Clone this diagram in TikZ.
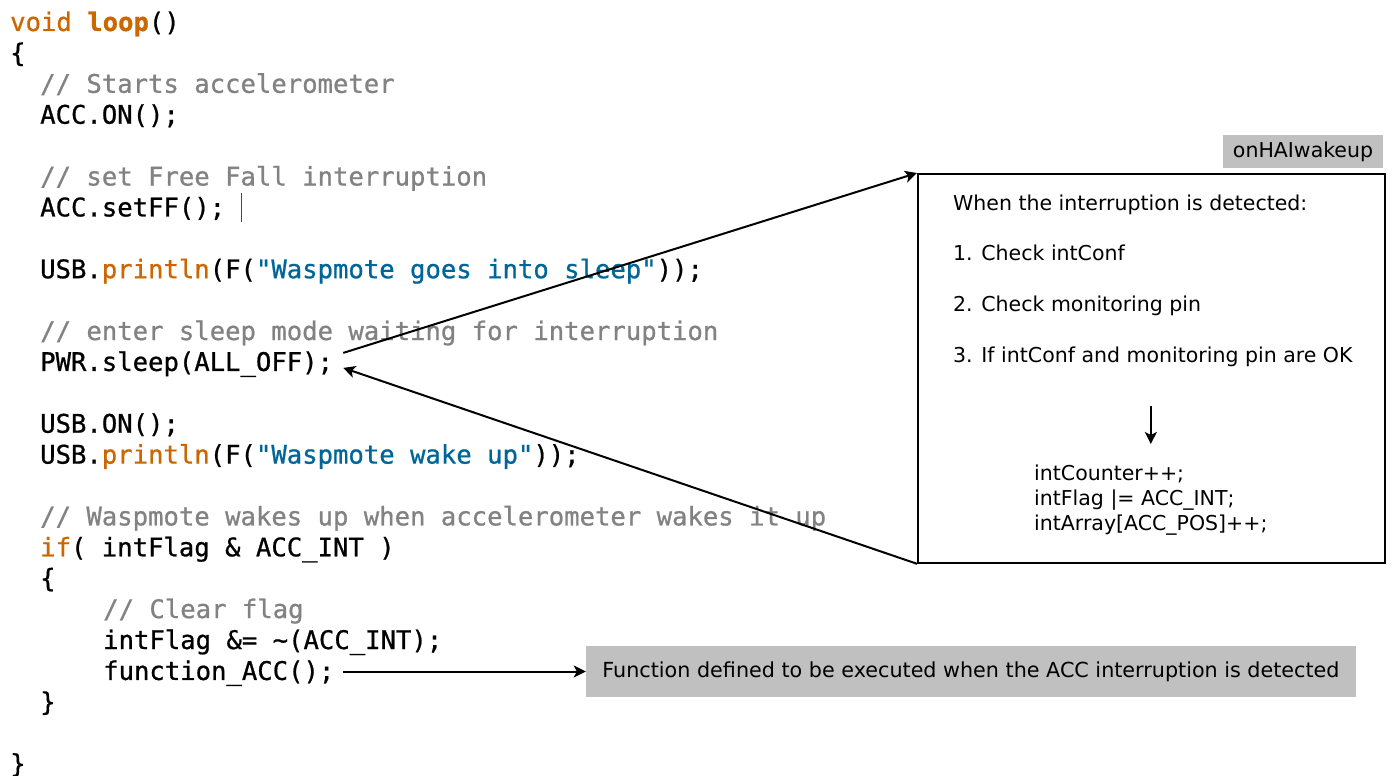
\documentclass[tikz,border=0pt]{standalone}
\usepackage{fontspec}
\setmainfont{DejaVu Sans}
\setmonofont[FakeBold=0.8]{DejaVu Sans Mono}
\usetikzlibrary{arrows.meta,positioning}
\definecolor{kwcol}{HTML}{CC6600}
\definecolor{strcol}{HTML}{006699}
\definecolor{cmtcol}{HTML}{828282}
\definecolor{notecol}{HTML}{C0C0C0}
\newcommand{\kwd}[1]{\textcolor{kwcol}{#1}}
\newcommand{\strg}[1]{\textcolor{strcol}{#1}}
\newcommand{\cmnt}[1]{\textcolor{cmtcol}{#1}}
\tikzset{code/.style={anchor=base west,inner sep=0pt,font=\fontsize{25.6}{30.9}\selectfont\ttfamily},
txt/.style={anchor=base west,inner sep=0pt,font=\fontsize{20.5}{25}\selectfont},
tag/.style={fill=notecol,inner sep=0pt,font=\fontsize{20.5}{25}\selectfont},
arr/.style={-{Stealth[length=12pt,width=12pt,inset=3pt]},line width=2pt}}

\begin{document}
\begin{tikzpicture}[x=1pt,y=-1pt]
\useasboundingbox(0,0)rectangle(1392,776);
% code of loop()
\node[code](l0)at(10,31){\kwd{void} \textbf{\kwd{loop}}()};
\node[code](l1)at(10,61.9){\{};
\node[code](l2)at(40,92.8){\cmnt{// Starts accelerometer}};
\node[code](l3)at(40,123.7){ACC.ON();};
\node[code](l5)at(40,185.5){\cmnt{// set Free Fall interruption}};
\node[code](l6)at(40,216.4){ACC.setFF();};
\node[code](l8)at(40,278.2){USB.\kwd{println}(F(\strg{"Waspmote goes into sleep"}));};
\node[code](l10)at(40,340){\cmnt{// enter sleep mode waiting for interruption}};
\node[code](sleep)at(40,370.9){PWR.sleep(ALL\_OFF);};
\node[code](l13)at(40,432.7){USB.ON();};
\node[code](l14)at(40,463.6){USB.\kwd{println}(F(\strg{"Waspmote wake up"}));};
\node[code](l16)at(40,525.4){\cmnt{// Waspmote wakes up when accelerometer wakes it up}};
\node[code](l17)at(40,556.3){\kwd{if}( intFlag \& ACC\_INT )};
\node[code](l18)at(40,587.2){\{};
\node[code](l19)at(103,618.1){\cmnt{// Clear flag}};
\node[code](l20)at(103,649){intFlag \&= \textasciitilde(ACC\_INT);};
\node[code](fn)at(103,679.9){function\_ACC();};
\node[code](l22)at(40,710.8){\}};
\node[code](l24)at(10,772.6){\}};
\draw[color=black!60!olive,line width=1pt](241,193)--(241,222);
% interruption routine
\node[draw,line width=1.8pt,anchor=north west,minimum width=467pt,minimum height=389pt](handler)at(917,173){};
\node[tag,minimum width=160pt,minimum height=33pt](name)at(1303,151.5){onHAIwakeup};
\node[txt](hd)at(953,210){When the interruption is detected:};
\node[txt](s1)at(953,260){1. Check intConf};
\node[txt](s2)at(953,311){2. Check monitoring pin};
\node[txt](s3)at(953,362){3. If intConf and monitoring pin are OK};
\node[txt,anchor=north west,align=left](incr)at(1034,465){intCounter++;\\intFlag |= ACC\_INT;\\intArray[ACC\_POS]++;};
\node[tag,minimum width=770pt,minimum height=51pt,font=\fontsize{20.7}{25}\selectfont](note)at(971,671.5){Function defined to be executed when the ACC interruption is detected};
\draw[arr]([shift={(10,-18)}]sleep.base east)--(handler.north west);
\draw[arr](handler.south west)--([shift={(10,-3)}]sleep.base east);
\draw[arr]([yshift=-40pt]s3.south -| incr.north)--([yshift=21pt]incr.north);
\draw[arr]([xshift=8pt]fn.east |- note.west)--(note.west);
\end{tikzpicture}
\end{document}
